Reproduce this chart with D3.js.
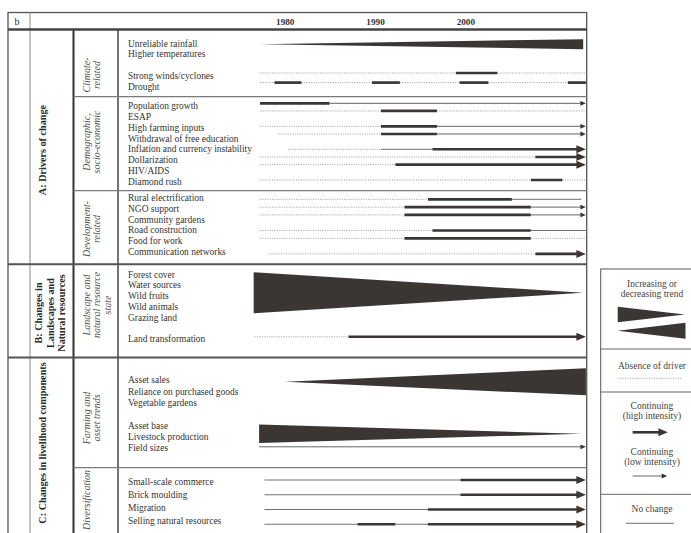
<!DOCTYPE html>
<html><head><meta charset="utf-8">
<script src="https://cdn.jsdelivr.net/npm/d3@7"></script>
<style>body{margin:0;background:#fff}svg{display:block}</style>
</head><body>
<svg id="chart" width="691" height="533"></svg>
<script>
// ---------------- DATA ----------------
const panelTag = "b";
const yearTicks = [1980, 1990, 2000];
const sectionLabels = [["A: Drivers of change"], ["B: Changes in", "Landscapes and", "Natural resources"], ["C: Changes in livelihood components"]];
const groupLabels = [["Climate-", "related"], ["Demographic,", "socio-economic"], ["Development-", "related"], ["Landscape and", "natural resource", "state"], ["Farming and", "asset trends"], ["Diversification"]];

const climateItems = ["Unreliable rainfall", "Higher temperatures", "", "Strong winds/cyclones", "Drought"];
const demographicItems = ["Population growth", "ESAP", "High farming inputs", "Withdrawal of free education", "Inflation and currency instability", "Dollarization", "HIV/AIDS", "Diamond rush"];
const developmentItems = ["Rural electrification", "NGO support", "Community gardens", "Road construction", "Food for work", "Communication networks"];
const landscapeItems = ["Forest cover", "Water sources", "Wild fruits", "Wild animals", "Grazing land", "", "Land transformation"];
const farmingItems = ["Asset sales", "Reliance on purchased goods", "Vegetable gardens", "", "Asset base", "Livestock production", "Field sizes"];
const diversificationItems = ["Small-scale commerce", "Brick moulding", "Migration", "Selling natural resources"];

// tracks: [lane, [[type, fromYear, toYear], ...]]
// types: up/down = increasing/decreasing trend, dot = absence, thin = no change,
// thick = high intensity, thinArrow / thickArrow = continuing (low / high intensity)
const climateTracks = [
  [0, [["up", 1977.2, 2013.0]]],
  [3, [["dot", 1977.2, 1998.9], ["thick", 1998.9, 2003.5], ["dot", 2003.5, 2013.3]]],
  [4, [["dot", 1977.2, 1978.8], ["thick", 1978.8, 1981.8], ["dot", 1981.8, 1989.6], ["thick", 1989.6, 1992.7],
       ["dot", 1992.7, 1999.3], ["thick", 1999.3, 2002.5], ["dot", 2002.5, 2011.3], ["thick", 2011.3, 2013.3]]]
];
const demographicTracks = [
  [0, [["thick", 1977.2, 1984.9], ["thinArrow", 1984.9, 2013.3]]],
  [1, [["dot", 1977.2, 1990.6], ["thick", 1990.6, 1996.8], ["dot", 1996.8, 2013.3]]],
  [3, [["dot", 1977.2, 1990.6], ["thick", 1990.6, 1996.8], ["thinArrow", 1996.8, 2013.3]]],
  [4, [["dot", 1979.2, 1990.6], ["thick", 1990.6, 1996.8], ["thinArrow", 1996.8, 2013.3]]],
  [6, [["dot", 1980.3, 1990.6], ["thin", 1990.6, 1996.3], ["thickArrow", 1996.3, 2013.3]]],
  [7, [["dot", 1977.2, 2007.7], ["thickArrow", 2007.7, 2013.3]]],
  [8, [["dot", 1977.2, 1992.2], ["thickArrow", 1992.2, 2013.3]]],
  [10, [["dot", 1977.2, 2007.2], ["thick", 2007.2, 2010.7], ["dot", 2010.7, 2013.3]]]
];
const developmentTracks = [
  [0, [["dot", 1977.2, 1995.8], ["thick", 1995.8, 2005.1], ["thin", 2005.1, 2012.8]]],
  [1, [["dot", 1977.2, 1993.2], ["thick", 1993.2, 2007.2], ["thinArrow", 2007.2, 2013.3]]],
  [2, [["dot", 1977.2, 1993.2], ["thick", 1993.2, 2007.2], ["thinArrow", 2007.2, 2013.3]]],
  [4, [["dot", 1977.2, 1996.3], ["thick", 1996.3, 2007.2], ["thin", 2007.2, 2013.3]]],
  [5, [["dot", 1977.2, 1993.2], ["thick", 1993.2, 2007.2], ["dot", 2007.2, 2013.3]]],
  [7, [["dot", 1978.2, 2007.7], ["thickArrow", 2007.7, 2013.3]]]
];
const landscapeTracks = [
  [0, [["down", 1976.5, 2013.0]]],
  [4, [["dot", 1976.6, 1987.0], ["thickArrow", 1987.0, 2013.3]]]
];
const farmingTracks = [
  [0, [["up", 1980.0, 2013.3]]],
  [4, [["down", 1977.1, 2012.8]]],
  [5, [["thinArrow", 1977.1, 2013.3]]]
];
const diversificationTracks = [
  [0, [["thin", 1977.7, 1999.4], ["thickArrow", 1999.4, 2013.3]]],
  [1, [["thin", 1977.7, 1999.4], ["thickArrow", 1999.4, 2013.3]]],
  [2, [["thin", 1977.7, 1995.8], ["thickArrow", 1995.8, 2013.3]]],
  [3, [["thin", 1977.7, 1988.0], ["thick", 1988.0, 1992.2], ["thin", 1992.2, 1995.8], ["thickArrow", 1995.8, 2013.3]]]
];

const legendLabels = [["Increasing or", "decreasing trend"], ["Absence of driver"], ["Continuing", "(high intensity)"], ["Continuing", "(low intensity)"], ["No change"]];

// ---------------- LAYOUT / STYLE ----------------
const items = [climateItems, demographicItems, developmentItems, landscapeItems, farmingItems, diversificationItems];
const tracks = [climateTracks, demographicTracks, developmentTracks, landscapeTracks, farmingTracks, diversificationTracks];
const L = {
  left: 8, right: 586.7, top: 12.5, bottom: 560, headBottom: 29.5,
  colTag: 30, colGroup: 73.5, colItem: 118, itemX: 128,
  sectionBounds: [29.5, 264.3, 357.5, 560],
  sectionCY: [150, 313, 443],
  groupBounds: [29.5, 96.7, 190.7, 264.3, 357.5, 467.7, 560],
  groupCY: [75, 142, 229, 305, 418, 500],
  itemTop: [43.2, 106, 197.7, 274.3, 380, 481.7],
  itemPitch: [10.8, 10.75, 10.8, 10.8, 11.3, 13],
  laneTop: [44.2, 103.3, 199.3, 292.8, 381.8, 480],
  lanePitch: [9.6, 7.67, 7.8, 11, 13, 14.75],
  wedgeH: {"0-0": 10, "3-0": 41, "4-0": 27, "4-4": 18.4}
};
const DARK = "#3b3634";
const serif = "'Liberation Serif','Times New Roman',Times,serif";

const svg = d3.select("#chart");
const x = d3.scaleLinear().domain([1977.2, 2013.2]).range([260, 585]);

// frame
const frame = svg.append("g").attr("fill", "none");
frame.append("rect").attr("x", L.left).attr("y", L.top).attr("width", L.right - L.left).attr("height", L.bottom - L.top)
  .attr("stroke", "#555").attr("stroke-width", 1.3);
frame.append("line").attr("x1", L.colTag).attr("x2", L.colTag).attr("y1", L.top).attr("y2", L.bottom).attr("stroke", "#8a8a8a").attr("stroke-width", 1);
frame.append("line").attr("x1", L.colGroup).attr("x2", L.colGroup).attr("y1", L.headBottom).attr("y2", L.bottom).attr("stroke", "#333").attr("stroke-width", 2);
frame.append("line").attr("x1", L.colItem).attr("x2", L.colItem).attr("y1", L.headBottom).attr("y2", L.bottom).attr("stroke", "#444").attr("stroke-width", 1.5);
frame.append("line").attr("x1", L.left).attr("x2", L.right).attr("y1", L.headBottom).attr("y2", L.headBottom).attr("stroke", "#444").attr("stroke-width", 2.6);
frame.selectAll("line.sec").data(L.sectionBounds.slice(1, 3)).join("line").attr("class", "sec")
  .attr("x1", L.left).attr("x2", L.right).attr("y1", d => d).attr("y2", d => d).attr("stroke", "#555").attr("stroke-width", 2);
frame.selectAll("line.grp").data([L.groupBounds[1], L.groupBounds[2], L.groupBounds[5]]).join("line").attr("class", "grp")
  .attr("x1", L.colGroup).attr("x2", L.right).attr("y1", d => d).attr("y2", d => d).attr("stroke", "#7a7a7a").attr("stroke-width", 1.2);

// header
svg.append("text").attr("x", 17).attr("y", 21).attr("dy", "0.35em").attr("text-anchor", "middle")
  .attr("font-family", serif).attr("font-size", 10).attr("fill", "#333").text(panelTag);
svg.selectAll("text.year").data(yearTicks).join("text").attr("class", "year")
  .attr("x", d => x(d)).attr("y", 21.7).attr("dy", "0.35em").attr("text-anchor", "middle")
  .attr("font-family", serif).attr("font-size", 9.2).attr("font-weight", "bold").attr("fill", "#333").text(d => d);

// section labels
sectionLabels.forEach((lines, i) => {
  const x0 = lines.length === 1 ? 42 : 38.5;
  lines.forEach((t, j) => {
    svg.append("text").attr("transform", `translate(${x0 + j * 11.5},${L.sectionCY[i]}) rotate(-90)`)
      .attr("dy", "0.35em").attr("text-anchor", "middle").attr("font-family", serif).attr("font-size", 10.2)
      .attr("font-weight", "bold").attr("fill", "#2a2a2a").text(t);
  });
});
// group labels
groupLabels.forEach((lines, i) => {
  lines.forEach((t, j) => {
    svg.append("text").attr("transform", `translate(${86 + j * 10.8},${L.groupCY[i]}) rotate(-90)`)
      .attr("dy", "0.35em").attr("text-anchor", "middle").attr("font-family", serif).attr("font-size", 10)
      .attr("font-style", "italic").attr("fill", "#555").text(t);
  });
});
// items
items.forEach((list, g) => {
  svg.append("g").selectAll("text").data(list).join("text")
    .attr("x", L.itemX).attr("y", (d, i) => L.itemTop[g] + i * L.itemPitch[g]).attr("dy", "0.35em")
    .attr("font-family", serif).attr("font-size", 9.45).attr("fill", "#333").text(d => d);
});

// mark drawing
function drawSeg(gSel, type, x0, x1, y, h) {
  if (type === "dot") {
    gSel.append("line").attr("x1", x0).attr("x2", x1).attr("y1", y).attr("y2", y)
      .attr("stroke", "#a0a0a0").attr("stroke-width", 0.9).attr("stroke-dasharray", "1.2,1.2");
  } else if (type === "thin") {
    gSel.append("line").attr("x1", x0).attr("x2", x1).attr("y1", y).attr("y2", y)
      .attr("stroke", "#707070").attr("stroke-width", 1);
  } else if (type === "thick") {
    gSel.append("line").attr("x1", x0).attr("x2", x1).attr("y1", y).attr("y2", y)
      .attr("stroke", DARK).attr("stroke-width", 2.7);
  } else if (type === "thinArrow") {
    gSel.append("line").attr("x1", x0).attr("x2", x1 - 4).attr("y1", y).attr("y2", y)
      .attr("stroke", "#666").attr("stroke-width", 1);
    gSel.append("path").attr("d", `M${x1},${y}L${x1 - 5.5},${y - 2.4}L${x1 - 5.5},${y + 2.4}Z`).attr("fill", DARK);
  } else if (type === "thickArrow") {
    gSel.append("line").attr("x1", x0).attr("x2", x1 - 7).attr("y1", y).attr("y2", y)
      .attr("stroke", DARK).attr("stroke-width", 2.6);
    gSel.append("path").attr("d", `M${x1},${y}L${x1 - 9.5},${y - 4}L${x1 - 9.5},${y + 4}Z`).attr("fill", DARK);
  } else if (type === "up") {
    gSel.append("path").attr("d", `M${x0},${y}L${x1},${y - h / 2}L${x1},${y + h / 2}Z`).attr("fill", DARK);
  } else if (type === "down") {
    gSel.append("path").attr("d", `M${x0},${y - h / 2}L${x0},${y + h / 2}L${x1},${y}Z`).attr("fill", DARK);
  }
}

const marks = svg.append("g");
tracks.forEach((list, g) => {
  list.forEach(([lane, segs]) => {
    const y = L.laneTop[g] + lane * L.lanePitch[g];
    const h = L.wedgeH[`${g}-${lane}`] || 0;
    segs.forEach(([type, a, b]) => drawSeg(marks, type, x(a), x(b), y, h));
  });
});

// legend
const lg = svg.append("g");
const lgLeft = 600.7, lgTop = 269, lgSeps = [349, 392, 494.3];
lg.append("rect").attr("x", lgLeft).attr("y", lgTop).attr("width", 120).attr("height", 300)
  .attr("fill", "none").attr("stroke", "#555").attr("stroke-width", 1);
lg.selectAll("line.sep").data(lgSeps).join("line").attr("class", "sep")
  .attr("x1", lgLeft).attr("x2", 700).attr("y1", d => d).attr("y2", d => d).attr("stroke", "#666").attr("stroke-width", 1);
const lx = d3.scaleLinear().domain([0, 1]).range([617.7, 685.5]);
const legendTextY = [[283.3, 293.3], [366], [406, 416], [452, 461.3], [508.3]];
legendLabels.forEach((lines, i) => lines.forEach((t, j) => {
  lg.append("text").attr("x", 652).attr("y", legendTextY[i][j]).attr("dy", "0.35em").attr("text-anchor", "middle")
    .attr("font-family", serif).attr("font-size", 9.5).attr("fill", "#444").text(t);
}));
drawSeg(lg, "down", lx(0), lx(0.99), 314.5, 15.6);
drawSeg(lg, "up", lx(0), lx(1), 330.7, 16);
drawSeg(lg, "dot", lx(0), lx(0.95), 378.3, 0);
drawSeg(lg, "thickArrow", lx(0.22), lx(0.74), 432.3, 0);
drawSeg(lg, "thinArrow", lx(0.22), lx(0.73), 476, 0);
drawSeg(lg, "thin", lx(0.12), lx(0.83), 523.3, 0);
</script>
</body></html>
